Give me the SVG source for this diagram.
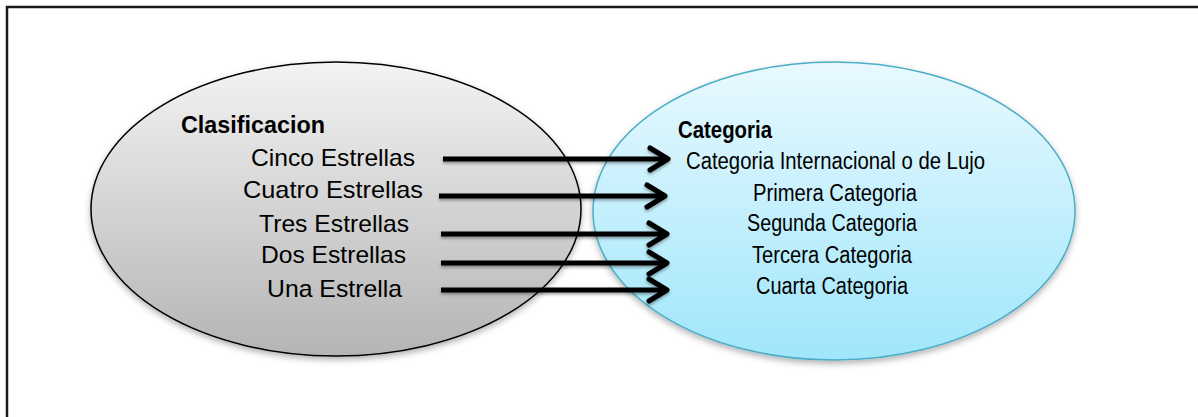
<svg xmlns="http://www.w3.org/2000/svg" width="1198" height="417" viewBox="0 0 1198 417">
<style>
.t{font-family:"Liberation Sans",Arial,sans-serif;font-size:24px;fill:#000}
.r{font-family:"Liberation Sans",Arial,sans-serif;font-size:23px;fill:#000}
.b{font-family:"Liberation Sans",Arial,sans-serif;font-size:23px;font-weight:bold;fill:#000}
.c{stroke:#000;stroke-width:5;fill:none;marker-end:url(#ah)}
</style>
<defs>
<linearGradient id="gGray" x1="0" y1="0" x2="0" y2="1">
<stop offset="0" stop-color="#f3f3f3"/>
<stop offset="1" stop-color="#b4b4b4"/>
</linearGradient>
<linearGradient id="gBlue" x1="0" y1="0" x2="0" y2="1">
<stop offset="0" stop-color="#e8f9fe"/>
<stop offset="1" stop-color="#a0e6fb"/>
</linearGradient>
<filter id="sh" x="-10%" y="-10%" width="120%" height="130%">
<feDropShadow dx="0" dy="3" stdDeviation="3" flood-color="#000" flood-opacity="0.3"/>
</filter>
<filter id="lsh" x="-5%" y="-50%" width="110%" height="200%">
<feDropShadow dx="0" dy="2" stdDeviation="1.5" flood-color="#000" flood-opacity="0.35"/>
</filter>
<marker id="ah" markerUnits="userSpaceOnUse" markerWidth="30" markerHeight="30" viewBox="0 0 30 30" refX="24" refY="15" orient="auto">
<path d="M6,4 L24,15 L6,26" fill="none" stroke="#000" stroke-width="5" stroke-linecap="round" stroke-linejoin="round"/>
</marker>
</defs>
<rect width="1198" height="417" fill="#fff"/>
<path d="M7,420 V7 H1200" fill="none" stroke="#1a1a1a" stroke-width="2.5"/>
<g id="clasificacion">
<ellipse cx="336" cy="209" rx="245" ry="147" fill="url(#gGray)" stroke="#000" stroke-width="1.5" filter="url(#sh)"/>
<text class="b" x="181" y="133" textLength="144" lengthAdjust="spacingAndGlyphs">Clasificacion</text>
<text class="t" x="251" y="166" textLength="164" lengthAdjust="spacingAndGlyphs">Cinco Estrellas</text>
<text class="t" x="243" y="198" textLength="180" lengthAdjust="spacingAndGlyphs">Cuatro Estrellas</text>
<text class="t" x="259" y="232" textLength="150" lengthAdjust="spacingAndGlyphs">Tres Estrellas</text>
<text class="t" x="261" y="263" textLength="145" lengthAdjust="spacingAndGlyphs">Dos Estrellas</text>
<text class="t" x="267" y="297" textLength="135" lengthAdjust="spacingAndGlyphs">Una Estrella</text>
</g>
<g id="categoria">
<ellipse cx="834" cy="211" rx="241" ry="149" fill="url(#gBlue)" stroke="#4bacc6" stroke-width="1.5" filter="url(#sh)"/>
<text class="b" x="678" y="138" textLength="94" lengthAdjust="spacingAndGlyphs">Categoria</text>
<text class="r" x="686" y="169" textLength="299" lengthAdjust="spacingAndGlyphs">Categoria Internacional o de Lujo</text>
<text class="r" x="753" y="201" textLength="164" lengthAdjust="spacingAndGlyphs">Primera Categoria</text>
<text class="r" x="747" y="231" textLength="170" lengthAdjust="spacingAndGlyphs">Segunda Categoria</text>
<text class="r" x="752" y="263" textLength="160" lengthAdjust="spacingAndGlyphs">Tercera Categoria</text>
<text class="r" x="756" y="294" textLength="152" lengthAdjust="spacingAndGlyphs">Cuarta Categoria</text>
</g>
<g id="connectors" filter="url(#lsh)">
<path class="c" d="M443,159 H668"/>
<path class="c" d="M439,196 H665"/>
<path class="c" d="M441,234 H667"/>
<path class="c" d="M441,263 H667"/>
<path class="c" d="M441,290 H667"/>
</g>
</svg>
